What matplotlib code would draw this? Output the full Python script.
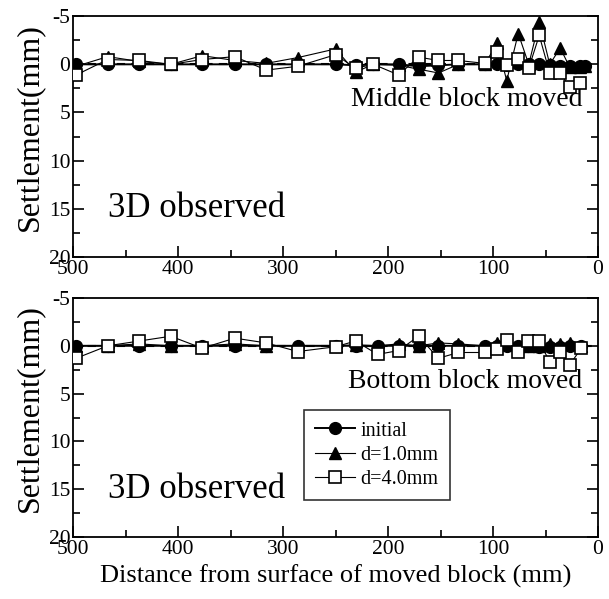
import matplotlib
matplotlib.use("Agg")
import matplotlib.pyplot as plt
from matplotlib.ticker import MultipleLocator

plt.rcParams['font.family'] = ['Liberation Serif', 'DejaVu Serif']
plt.rcParams['axes.unicode_minus'] = False

# distance from surface of moved block (mm)
x_mid = [497, 467, 437, 407, 377, 346, 316, 286, 250, 231, 214, 190, 171, 152,
         133, 108, 96, 87, 76, 66, 56, 46, 36, 27, 17, 12]
init_mid = [0.0, 0.0, 0.0, 0.0, 0.0, 0.0, 0.0, 0.0, 0.0, 0.1, 0.0, 0.0, 0.2, 0.1,
            0.0, 0.0, 0.0, 0.1, 0.0, 0.0, 0.0, 0.1, 0.2, 0.2, 0.2, 0.2]
d1_mid = [0.2, -0.8, -0.3, 0.0, -0.9, -0.4, -0.1, -0.7, -1.6, 0.8, 0.0, 0.1, 0.5, 0.9,
          0.0, 0.0, -2.2, 1.7, -3.2, 0.0, -4.4, 0.0, -1.7, 0.3, 0.3, 0.2]
d4_mid = [1.1, -0.5, -0.4, 0.0, -0.5, -0.8, 0.6, 0.2, -1.0, 0.4, 0.0, 1.1, -0.75, -0.4,
          -0.4, -0.1, -1.3, 0.1, -0.6, 0.4, -3.0, 0.9, 0.9, 2.4, 1.9, None]

x_bot = [497, 467, 437, 407, 377, 346, 316, 286, 250, 231, 210, 190, 171, 152,
         133, 108, 96, 87, 76, 67, 56, 46, 36, 27, 16]
init_bot = [0.0, 0.0, 0.0, 0.0, 0.0, 0.0, 0.0, 0.0, 0.0, 0.0, 0.0, 0.0, 0.0, 0.0,
            0.0, 0.0, 0.0, 0.0, 0.0, 0.0, 0.1, 0.1, 0.1, 0.0, 0.0]
d1_bot = [0.0, 0.0, -0.2, 0.0, 0.0, -0.2, 0.0, 0.0, 0.0, -0.1, 0.0, -0.2, 0.0, -0.3,
          -0.2, 0.0, -0.3, -0.2, 0.0, 0.0, 0.0, -0.2, -0.2, -0.3, 0.0]
d4_bot = [1.3, 0.0, -0.5, -1.0, 0.25, -0.8, -0.3, 0.6, 0.1, -0.5, 0.9, 0.5, -1.0, 1.3,
          0.7, 0.7, 0.35, -0.6, 0.7, -0.5, -0.5, 1.7, 0.7, 2.0, 0.25]

yticks = [-5, 0, 5, 10, 15, 20]
xticks = [500, 400, 300, 200, 100, 0]


def draw_panel(ax, x, init, d1, d4, note):
    ax.axhline(0, color='k', lw=1.5, ls=(0, (4, 3)), zorder=1)
    # last point of the d=4.0mm series is missing in some panels
    x4 = [a for a, b in zip(x, d4) if b is not None]
    y4 = [b for b in d4 if b is not None]
    ax.plot(x, init, '-o', color='k', lw=1.4, ms=8.5, label='initial', zorder=3)
    ax.plot(x, d1, '-^', color='k', lw=0.8, ms=8.5, label='d=1.0mm', zorder=4)
    ax.plot(x4, y4, '-s', color='k', mfc='white', lw=0.8, ms=9,
            mew=1.2, label='d=4.0mm', zorder=5)
    ax.set_xlim(500, 0)
    ax.set_ylim(20, -5)
    ax.set_xticks(xticks)
    ax.set_yticks(yticks)
    ax.xaxis.set_minor_locator(MultipleLocator(50))
    ax.yaxis.set_minor_locator(MultipleLocator(2.5))
    ax.tick_params(which='both', direction='in', right=True, labelsize=15.5,
                   width=1.2, pad=2)
    ax.tick_params(which='major', length=8)
    ax.tick_params(which='minor', length=5)
    for s in ax.spines.values():
        s.set_linewidth(1.3)
    ax.set_ylabel('Settlement(mm)', fontsize=23)
    ax.yaxis.set_label_coords(-0.055, 0.54)
    ax.text(467, 15, '3D observed', fontsize=25, ha='left', va='center')
    ax.text(15, 3.7, note, fontsize=20, ha='right', va='center')


fig = plt.figure(figsize=(6.09, 5.99), dpi=100)
ax1 = fig.add_axes([0.120, 0.571, 0.862, 0.402])
ax2 = fig.add_axes([0.120, 0.1035, 0.862, 0.399])

draw_panel(ax1, x_mid, init_mid, d1_mid, d4_mid, 'Middle block moved')
draw_panel(ax2, x_bot, init_bot, d1_bot, d4_bot, 'Bottom block moved')

ax2.set_xlabel('Distance from surface of moved block (mm)', fontsize=19, labelpad=4)
leg = ax2.legend(loc='upper left', bbox_to_anchor=(0.44, 0.53), fontsize=14.5,
                 frameon=True, fancybox=False, edgecolor='k', handlelength=2.0,
                 handletextpad=0.25, borderpad=0.55, labelspacing=0.25,
                 borderaxespad=0)
leg.get_frame().set_linewidth(1.2)

fig.savefig('out.png', dpi=100)
